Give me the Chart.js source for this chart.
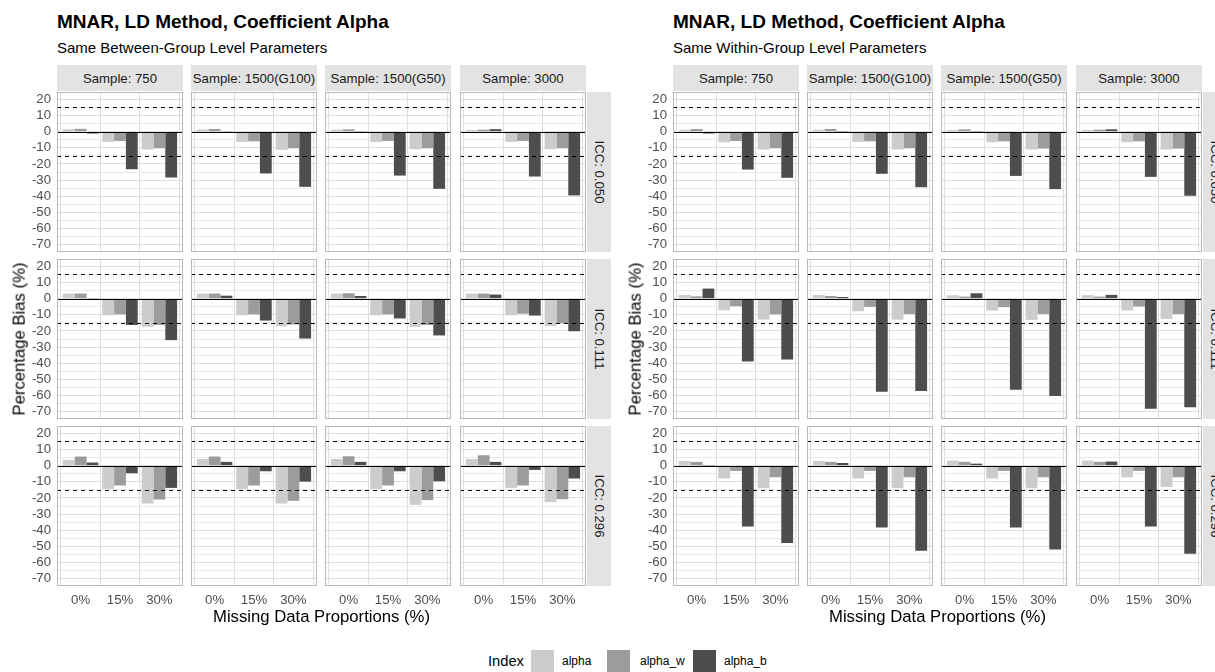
<!DOCTYPE html>
<html>
<head>
<meta charset="utf-8">
<title>MNAR, LD Method, Coefficient Alpha</title>
<script src="https://cdn.jsdelivr.net/npm/chart.js@4.4.1/dist/chart.umd.min.js"></script>
<style>
  html, body { margin: 0; padding: 0; background: #ffffff; }
  body {
    width: 1215px; height: 672px; overflow: hidden; position: relative;
    font-family: "Liberation Sans", Arial, Helvetica, sans-serif;
  }
  .txt { position: absolute; white-space: nowrap; }
  canvas { position: absolute; }
  .strip-top {
    position: absolute; background: #e3e3e3; color: #1a1a1a; font-size: 13.2px;
    display: flex; align-items: center; justify-content: center; white-space: nowrap;
  }
  .strip-right { position: absolute; background: #e3e3e3; color: #1a1a1a; font-size: 13.2px; }
  .strip-right span {
    position: absolute; left: 50%; top: 50%; white-space: nowrap;
    transform: translate(-50%, -50%) rotate(90deg);
  }
  .swatch { position: absolute; }
</style>
</head>
<body>
<script>
// ---- categories, labels and tick values ----
const categories = ['0%', '15%', '30%'];
const sampleLabels = ['Sample: 750', 'Sample: 1500(G100)', 'Sample: 1500(G50)', 'Sample: 3000'];
const iccLabels = ['ICC: 0.050', 'ICC: 0.111', 'ICC: 0.296'];
const seriesNames = ['alpha', 'alpha_w', 'alpha_b'];
const yTickLabels = [20, 10, 0, -10, -20, -30, -40, -50, -60, -70];
const yGridValues = [20, 15, 10, 5, 0, -5, -10, -15, -20, -25, -30, -35, -40, -45, -50, -55, -60, -65, -70];
const biasBounds = [15, -15];

// ---- percentage bias, Same Between-Group Level Parameters ----
// each array: one row per sample size (750, 1500(G100), 1500(G50), 3000), one value per missing proportion
const betweenIcc050Alpha  = [[1.5, -6.4, -11.1], [1.3, -6.4, -11.3], [1.2, -6.4, -10.9], [1.0, -6.4, -10.9]];
const betweenIcc050AlphaW = [[1.7, -5.8, -10.3], [1.6, -6.0, -10.3], [1.4, -5.8, -10.3], [1.2, -5.8, -10.3]];
const betweenIcc050AlphaB = [[-1.2, -23.3, -28.4], [0.2, -25.9, -34.2], [0.2, -27.2, -35.4], [1.5, -27.8, -39.5]];

const betweenIcc111Alpha  = [[3.1, -10.3, -17.5], [3.1, -10.3, -17.1], [3.1, -10.3, -17.5], [3.1, -10.3, -16.9]];
const betweenIcc111AlphaW = [[3.1, -9.7, -16.3], [3.1, -9.7, -16.0], [3.3, -9.7, -16.3], [3.1, -9.3, -15.4]];
const betweenIcc111AlphaB = [[0.2, -16.3, -25.7], [1.8, -13.6, -24.7], [1.6, -12.3, -22.8], [2.5, -10.5, -20.2]];

const betweenIcc296Alpha  = [[3.5, -14.4, -23.5], [4.1, -14.4, -23.5], [4.1, -14.4, -24.3], [4.1, -13.8, -22.6]];
const betweenIcc296AlphaW = [[5.6, -12.3, -21.0], [5.6, -12.3, -21.8], [5.8, -12.3, -21.4], [6.4, -12.3, -20.8]];
const betweenIcc296AlphaB = [[1.9, -4.7, -13.8], [2.3, -3.5, -9.9], [2.3, -3.5, -9.7], [2.3, -2.7, -8.0]];

// ---- percentage bias, Same Within-Group Level Parameters ----
const withinIcc050Alpha  = [[1.2, -6.6, -11.1], [1.2, -6.4, -11.1], [1.0, -6.6, -11.1], [1.0, -6.6, -11.1]];
const withinIcc050AlphaW = [[1.6, -5.8, -10.3], [1.6, -6.0, -10.3], [1.4, -6.0, -10.5], [1.2, -6.0, -10.5]];
const withinIcc050AlphaB = [[-1.2, -23.5, -28.6], [0.1, -26.1, -34.4], [0.1, -27.4, -35.6], [1.4, -28.0, -39.7]];

const withinIcc111Alpha  = [[2.3, -7.2, -13.0], [2.3, -7.8, -13.0], [2.1, -7.4, -13.2], [2.1, -7.4, -12.6]];
const withinIcc111AlphaW = [[1.4, -4.7, -9.7], [1.6, -5.1, -9.5], [1.2, -5.3, -9.5], [1.2, -4.9, -9.5]];
const withinIcc111AlphaB = [[6.2, -38.9, -37.7], [1.0, -57.6, -57.2], [3.3, -56.4, -60.3], [2.3, -68.1, -67.3]];

const withinIcc296Alpha  = [[2.9, -8.0, -14.0], [2.9, -8.0, -14.0], [3.1, -8.0, -14.0], [3.1, -7.2, -13.2]];
const withinIcc296AlphaW = [[2.3, -3.3, -7.2], [2.3, -3.3, -7.2], [2.3, -3.3, -7.2], [2.3, -3.3, -7.2]];
const withinIcc296AlphaB = [[0.1, -37.7, -47.9], [1.6, -38.3, -52.7], [1.2, -38.3, -51.9], [2.5, -37.7, -54.5]];

// ---- look ----
const seriesColors = ['#cccccc', '#9c9c9c', '#4d4d4d'];
const FONT = '"Liberation Sans", Arial, Helvetica, sans-serif';
const Y_MIN = -74.5, Y_MAX = 24.5;          // limits -70..20 plus 5% expansion
const X_MIN = 0.4, X_MAX = 3.6;             // three discrete slots plus 0.6 expansion
const PANEL_W = 126, PANEL_H = 160;
const ROW_TOP = [92, 259, 426];
const COL_OFFSET = [0, 134, 268, 403];
const X_AXIS_H = 30;

const facets = [
  {
    originX: 0, firstPanelX: 57,
    title: 'MNAR, LD Method, Coefficient Alpha',
    subtitle: 'Same Between-Group Level Parameters',
    rows: [
      [betweenIcc050Alpha, betweenIcc050AlphaW, betweenIcc050AlphaB],
      [betweenIcc111Alpha, betweenIcc111AlphaW, betweenIcc111AlphaB],
      [betweenIcc296Alpha, betweenIcc296AlphaW, betweenIcc296AlphaB]
    ]
  },
  {
    originX: 616, firstPanelX: 673,
    title: 'MNAR, LD Method, Coefficient Alpha',
    subtitle: 'Same Within-Group Level Parameters',
    rows: [
      [withinIcc050Alpha, withinIcc050AlphaW, withinIcc050AlphaB],
      [withinIcc111Alpha, withinIcc111AlphaW, withinIcc111AlphaB],
      [withinIcc296Alpha, withinIcc296AlphaW, withinIcc296AlphaB]
    ]
  }
];

// dashed bias bounds, solid zero line and the panel frame
const panelDecor = {
  id: 'panelDecor',
  afterDatasetsDraw(chart) {
    const { ctx, chartArea: a, scales: { y } } = chart;
    ctx.save();
    ctx.strokeStyle = '#000000';
    ctx.lineWidth = 1;
    ctx.setLineDash([4, 4]);
    for (const v of biasBounds) {
      const py = Math.round(y.getPixelForValue(v)) + 0.5;
      ctx.beginPath(); ctx.moveTo(a.left, py); ctx.lineTo(a.right, py); ctx.stroke();
    }
    ctx.setLineDash([]);
    const pz = Math.round(y.getPixelForValue(0)) + 0.5;
    ctx.beginPath(); ctx.moveTo(a.left, pz); ctx.lineTo(a.right, pz); ctx.stroke();
    ctx.strokeStyle = '#b8b8b8';
    ctx.strokeRect(a.left + 0.5, a.top + 0.5, a.right - a.left - 1, a.bottom - a.top - 1);
    ctx.restore();
  }
};

function addText(text, css) {
  const d = document.createElement('div');
  d.className = 'txt';
  d.textContent = text;
  Object.assign(d.style, css);
  document.body.appendChild(d);
  return d;
}

function makePanel(left, top, width, height, seriesValues, isLeft, isBottom, yAxisW) {
  const canvas = document.createElement('canvas');
  canvas.width = width; canvas.height = height;
  canvas.style.left = left + 'px'; canvas.style.top = top + 'px';
  canvas.style.width = width + 'px'; canvas.style.height = height + 'px';
  document.body.appendChild(canvas);

  new Chart(canvas, {
    type: 'bar',
    data: {
      datasets: seriesNames.map((name, s) => ({
        label: name,
        data: seriesValues[s].map((v, i) => ({ x: i + 1, y: v })),
        backgroundColor: seriesColors[s],
        borderWidth: 0,
        barPercentage: 1,
        categoryPercentage: 0.9
      }))
    },
    options: {
      responsive: false,
      maintainAspectRatio: false,
      animation: false,
      devicePixelRatio: 1,
      layout: { padding: 0 },
      plugins: { legend: { display: false }, tooltip: { enabled: false } },
      scales: {
        x: {
          type: 'linear', min: X_MIN, max: X_MAX, offset: false, bounds: 'data',
          afterBuildTicks: s => { s.ticks = categories.map((c, i) => ({ value: i + 1 })); },
          afterFit: s => {
            s.height = isBottom ? X_AXIS_H : 0;
            s.paddingLeft = 0; s.paddingRight = 0; s.paddingTop = 0; s.paddingBottom = 0;
          },
          border: { display: false },
          grid: { color: '#dedede', lineWidth: 1, drawTicks: false },
          ticks: {
            display: isBottom, autoSkip: false, maxRotation: 0, padding: 6,
            color: '#4d4d4d', font: { family: FONT, size: 13.2 },
            callback: v => categories[Math.round(v) - 1]
          }
        },
        y: {
          type: 'linear', min: Y_MIN, max: Y_MAX, bounds: 'data',
          afterBuildTicks: s => { s.ticks = yGridValues.map(v => ({ value: v })); },
          afterFit: s => {
            s.width = isLeft ? yAxisW : 0;
            s.paddingLeft = 0; s.paddingRight = 0; s.paddingTop = 0; s.paddingBottom = 0;
          },
          border: { display: false },
          grid: {
            drawTicks: false,
            lineWidth: 1,
            color: ctx => (ctx.tick && ctx.tick.value % 10 === 0) ? '#dedede' : '#e9e9e9'
          },
          ticks: {
            display: isLeft, autoSkip: false, padding: 6,
            color: '#4d4d4d', font: { family: FONT, size: 13.2 },
            callback: v => yTickLabels.includes(v) ? String(v) : ''
          }
        }
      }
    },
    plugins: [panelDecor]
  });
}

for (const f of facets) {
  const panelX = COL_OFFSET.map(o => f.firstPanelX + o);
  const gridRight = panelX[3] + PANEL_W;

  // titles
  addText(f.title, { left: f.firstPanelX + 'px', top: '12px', fontSize: '19px', lineHeight: '19px', fontWeight: 'bold', color: '#000' });
  addText(f.subtitle, { left: f.firstPanelX + 'px', top: '40px', fontSize: '15px', lineHeight: '15px', color: '#000' });

  // column strips
  sampleLabels.forEach((lab, c) => {
    const d = document.createElement('div');
    d.className = 'strip-top';
    Object.assign(d.style, { left: panelX[c] + 'px', top: '65px', width: PANEL_W + 'px', height: '26px' });
    d.textContent = lab;
    document.body.appendChild(d);
  });

  // row strips
  iccLabels.forEach((lab, r) => {
    const d = document.createElement('div');
    d.className = 'strip-right';
    Object.assign(d.style, { left: (gridRight + 1) + 'px', top: ROW_TOP[r] + 'px', width: '24px', height: PANEL_H + 'px' });
    const sp = document.createElement('span');
    sp.textContent = lab;
    d.appendChild(sp);
    document.body.appendChild(d);
  });

  // panels
  for (let r = 0; r < 3; r++) {
    for (let c = 0; c < 4; c++) {
      const isLeft = c === 0, isBottom = r === 2;
      const yAxisW = f.firstPanelX - f.originX;
      const left = isLeft ? f.originX : panelX[c];
      const width = PANEL_W + (isLeft ? yAxisW : 0);
      const height = PANEL_H + (isBottom ? X_AXIS_H : 0);
      const seriesValues = f.rows[r].map(arr => arr[c]);
      makePanel(left, ROW_TOP[r], width, height, seriesValues, isLeft, isBottom, yAxisW);
    }
  }

  // axis titles
  const yt = addText('Percentage Bias (%)', {
    left: (f.originX + 19.5) + 'px', top: ((ROW_TOP[0] + ROW_TOP[2] + PANEL_H) / 2) + 'px',
    fontSize: '16.7px', lineHeight: '16.7px', color: '#000',
    transform: 'translate(-50%, -50%) rotate(-90deg)'
  });
  addText('Missing Data Proportions (%)', {
    left: ((f.firstPanelX + gridRight) / 2) + 'px', top: '609px',
    fontSize: '16.7px', lineHeight: '16.7px', color: '#000',
    transform: 'translateX(-50%)'
  });
}

// legend
addText('Index', { left: '488px', top: '654px', fontSize: '14.7px', lineHeight: '15px', color: '#000' });
const legendSwatchX = [531, 607, 693];
const legendLabelX = [562, 640, 724];
seriesNames.forEach((name, s) => {
  const sw = document.createElement('div');
  sw.className = 'swatch';
  Object.assign(sw.style, { left: legendSwatchX[s] + 'px', top: '650px', width: '23px', height: '23px', background: seriesColors[s] });
  document.body.appendChild(sw);
  addText(name, { left: legendLabelX[s] + 'px', top: '655px', fontSize: '12px', lineHeight: '13px', color: '#000' });
});
</script>
</body>
</html>
